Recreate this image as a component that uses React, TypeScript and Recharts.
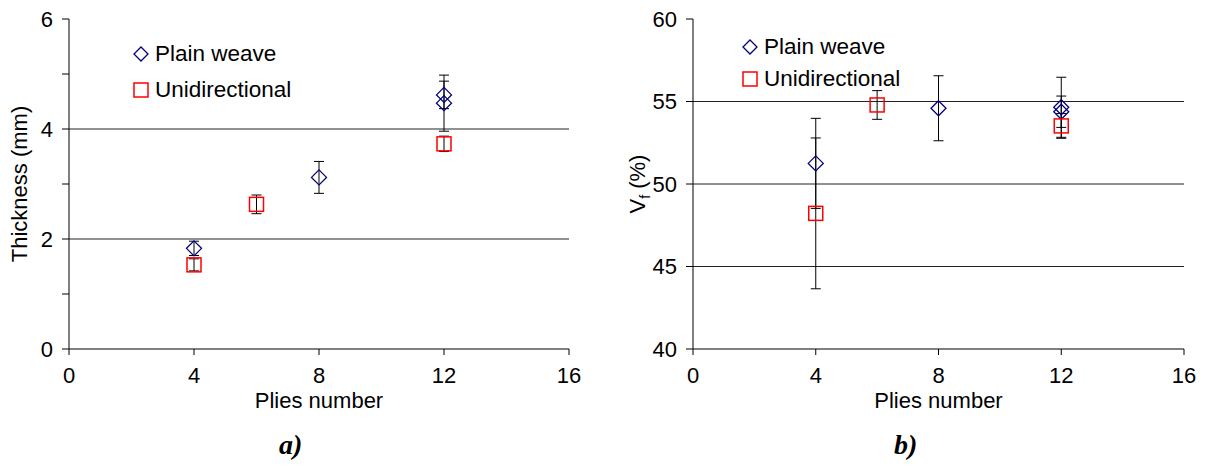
import React from "react";
import {
  ScatterChart,
  Scatter,
  XAxis,
  YAxis,
  ErrorBar,
  ReferenceLine,
  Legend,
} from "recharts";

const FONT = "'Liberation Sans', Arial, sans-serif";
const SERIF = "'Liberation Serif', 'Times New Roman', serif";
const PLAIN_COLOR = "#000080";
const UD_COLOR = "#FF0000";

// shared x axis
const pliesTicks = [0, 4, 8, 12, 16];

// a) laminate thickness
const thicknessTicks = [0, 1, 2, 3, 4, 5, 6];
const thicknessGrid = [2, 4];
const plainPlies = [4, 8, 12, 12];
const plainThickness = [1.83, 3.12, 4.62, 4.47];
const plainThicknessErr = [0.13, 0.29, 0.25, 0.51];
const udPlies = [4, 6, 12];
const udThickness = [1.53, 2.63, 3.73];
const udThicknessErr = [0.11, 0.17, 0.14];

// b) fibre volume fraction
const vfTicks = [40, 45, 50, 55, 60];
const vfGrid = [45, 50, 55];
const plainVf = [51.25, 54.59, 54.65, 54.38];
const plainVfErr = [2.73, 1.97, 1.82, 0.95];
const udVf = [48.22, 54.79, 53.52];
const udVfErr = [4.57, 0.87, 0.75];

const seriesNames = ["Plain weave", "Unidirectional"];

type Pt = { x: number; y: number; err: number };

const toPoints = (xs: number[], ys: number[], errs: number[]): Pt[] =>
  xs.map((x, i) => ({ x, y: ys[i], err: errs[i] }));

const Diamond = (props: any) => {
  const { cx, cy } = props;
  const r = 7.5;
  return (
    <polygon
      points={`${cx},${cy - r} ${cx + r},${cy} ${cx},${cy + r} ${cx - r},${cy}`}
      fill="none"
      stroke={PLAIN_COLOR}
      strokeWidth={1.3}
    />
  );
};

const Square = (props: any) => {
  const { cx, cy } = props;
  return (
    <rect
      x={cx - 7}
      y={cy - 7}
      width={14}
      height={14}
      fill="none"
      stroke={UD_COLOR}
      strokeWidth={1.5}
    />
  );
};

const LegendBox = ({ rowHeight }: { rowHeight: number }) => (
  <div style={{ fontFamily: FONT, fontSize: 22.5, color: "#000", lineHeight: `${rowHeight}px` }}>
    {seriesNames.map((name, i) => (
      <div key={name} style={{ display: "flex", alignItems: "center" }}>
        <svg width={18} height={18} style={{ marginRight: 5 }}>
          {i === 0 ? (
            <polygon points="9,2 16,9 9,16 2,9" fill="none" stroke={PLAIN_COLOR} strokeWidth={1.3} />
          ) : (
            <rect x={2} y={2} width={14} height={14} fill="none" stroke={UD_COLOR} strokeWidth={1.5} />
          )}
        </svg>
        <span>{name}</span>
      </div>
    ))}
  </div>
);

const YTitle = ({ viewBox, dx, sub }: any) => {
  const x = viewBox.x + dx;
  const y = viewBox.y + viewBox.height / 2;
  return (
    <text
      x={x}
      y={y}
      transform={`rotate(-90, ${x}, ${y})`}
      textAnchor="middle"
      fontFamily={FONT}
      fontSize={22}
      fill="#000"
    >
      {sub ? (
        <>
          <tspan>V</tspan>
          <tspan dy={5} fontSize={14}>f</tspan>
          <tspan dy={-5}> (%)</tspan>
        </>
      ) : (
        "Thickness (mm)"
      )}
    </text>
  );
};

interface PanelProps {
  left: number;
  width: number;
  marginRight: number;
  yWidth: number;
  yTicks: number[];
  yDomain: [number, number];
  grid: number[];
  plain: Pt[];
  ud: Pt[];
  sub: boolean;
  titleDx: number;
  legendLeft: number;
  legendTop: number;
  legendRow: number;
  minor?: boolean;
}

function Panel(p: PanelProps) {
  const tickStyle = { fill: "#000", fontSize: 22, fontFamily: FONT };
  return (
    <div style={{ position: "absolute", left: p.left, top: 0 }}>
      <ScatterChart
        width={p.width}
        height={420}
        margin={{ top: 19, right: p.marginRight, bottom: 0, left: 0 }}
      >
        <XAxis
          type="number"
          dataKey="x"
          domain={[0, 16]}
          ticks={pliesTicks}
          interval={0}
          height={71}
          tickSize={6}
          tickMargin={12}
          tick={tickStyle}
          axisLine={{ stroke: "#000" }}
          tickLine={{ stroke: "#000" }}
          label={{
            value: "Plies number",
            position: "insideBottom",
            offset: 12,
            fill: "#000",
            fontSize: 22,
            fontFamily: FONT,
          }}
        />
        <YAxis
          type="number"
          dataKey="y"
          domain={p.yDomain}
          ticks={p.yTicks}
          interval={0}
          width={p.yWidth}
          tickSize={7}
          tickMargin={9}
          tick={tickStyle}
          tickFormatter={(v: number) => (p.minor && v % 2 !== 0 ? "" : String(v))}
          axisLine={{ stroke: "#000" }}
          tickLine={{ stroke: "#000" }}
          label={<YTitle dx={p.titleDx} sub={p.sub} />}
        />
        {p.grid.map((v) => (
          <ReferenceLine key={v} y={v} stroke="#222" strokeWidth={1} />
        ))}
        <Scatter data={p.plain} shape={Diamond} isAnimationActive={false} name={seriesNames[0]}>
          <ErrorBar dataKey="err" direction="y" width={5} stroke="#000" strokeWidth={1} />
        </Scatter>
        <Scatter data={p.ud} shape={Square} isAnimationActive={false} name={seriesNames[1]}>
          <ErrorBar dataKey="err" direction="y" width={5} stroke="#000" strokeWidth={1} />
        </Scatter>
        <Legend
          layout="vertical"
          align="center"
          verticalAlign="middle"
          content={() => <LegendBox rowHeight={p.legendRow} />}
          wrapperStyle={{ left: p.legendLeft, top: p.legendTop, width: "auto", height: "auto" }}
        />
      </ScatterChart>
    </div>
  );
}

export default function App() {
  return (
    <div
      style={{
        position: "absolute",
        left: 0,
        top: 0,
        width: 1207,
        height: 469,
        background: "#fff",
        overflow: "hidden",
      }}
    >
      <Panel
        left={0}
        width={600}
        marginRight={31}
        yWidth={69}
        yTicks={thicknessTicks}
        yDomain={[0, 6]}
        grid={thicknessGrid}
        plain={toPoints(plainPlies, plainThickness, plainThicknessErr)}
        ud={toPoints(udPlies, udThickness, udThicknessErr)}
        sub={false}
        titleDx={27}
        legendLeft={132}
        legendTop={36}
        legendRow={36}
        minor
      />
      <Panel
        left={620}
        width={587}
        marginRight={23}
        yWidth={73}
        yTicks={vfTicks}
        yDomain={[40, 60]}
        grid={vfGrid}
        plain={toPoints(plainPlies, plainVf, plainVfErr)}
        ud={toPoints(udPlies, udVf, udVfErr)}
        sub
        titleDx={25}
        legendLeft={121}
        legendTop={31}
        legendRow={32}
      />
      <div
        style={{
          position: "absolute",
          left: 279,
          top: 429,
          fontFamily: SERIF,
          fontStyle: "italic",
          fontWeight: "bold",
          fontSize: 28,
        }}
      >
        a)
      </div>
      <div
        style={{
          position: "absolute",
          left: 894,
          top: 429,
          fontFamily: SERIF,
          fontStyle: "italic",
          fontWeight: "bold",
          fontSize: 28,
        }}
      >
        b)
      </div>
    </div>
  );
}
